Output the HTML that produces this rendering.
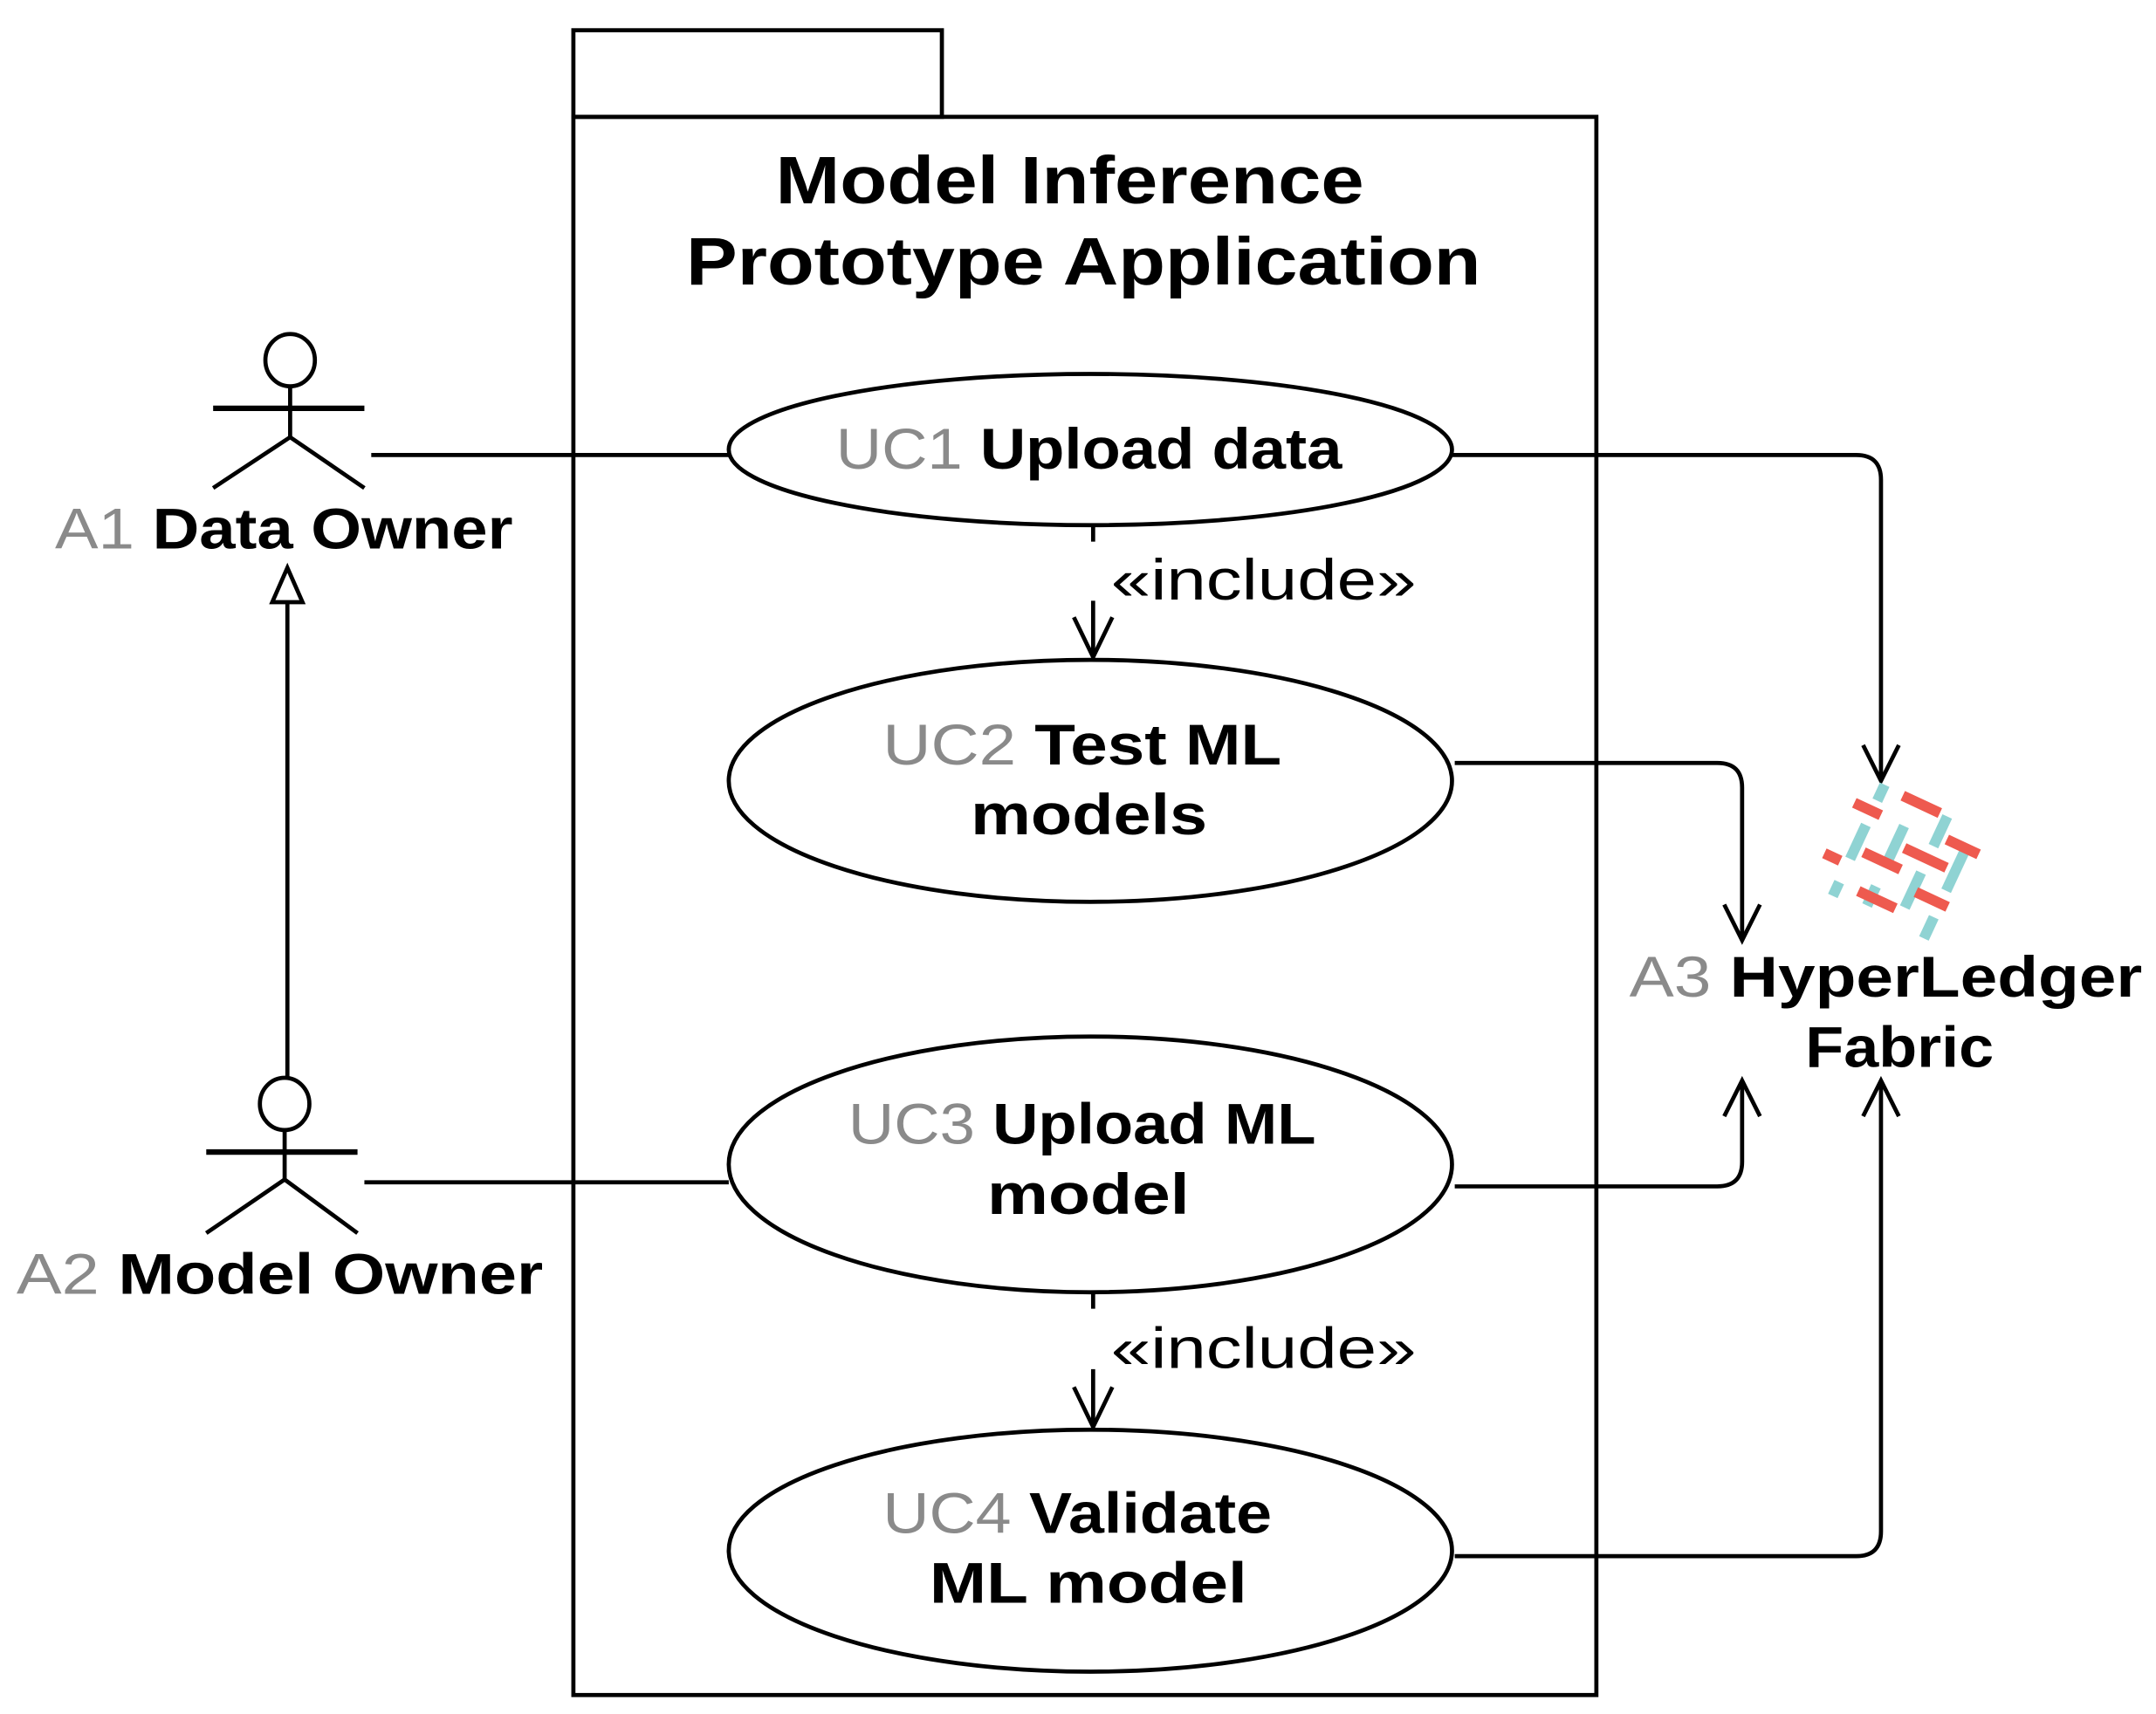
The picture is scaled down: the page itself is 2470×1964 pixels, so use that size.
<!DOCTYPE html>
<html><head><meta charset="utf-8"><style>
html,body{margin:0;padding:0;background:#fff;}
svg{display:block;}
text{font-family:"Liberation Sans",Arial,sans-serif;}
.b{font-weight:bold;}
</style></head><body>
<svg width="2470" height="1964" viewBox="0 0 1568 1246.8" xmlns="http://www.w3.org/2000/svg">
<g fill="none" stroke="#000" stroke-width="3">
  <rect x="417" y="22" width="268" height="63"/>
  <rect x="417" y="85" width="744" height="1148"/>
  <ellipse cx="793" cy="327" rx="263" ry="55" fill="#fff"/>
  <ellipse cx="793" cy="568" rx="263" ry="88" fill="#fff"/>
  <ellipse cx="793" cy="847" rx="263" ry="93" fill="#fff"/>
  <ellipse cx="793" cy="1128" rx="263" ry="88" fill="#fff"/>
  <ellipse cx="211" cy="262" rx="18" ry="19"/>
  <line x1="211" y1="281" x2="211" y2="318"/>
  <line x1="155" y1="297" x2="265" y2="297" stroke-width="4"/>
  <polyline points="155,355 211,318 265,355"/>
  <ellipse cx="207" cy="803" rx="18" ry="19"/>
  <line x1="207" y1="822" x2="207" y2="858"/>
  <line x1="150" y1="838" x2="260" y2="838" stroke-width="4"/>
  <polyline points="150,897 207,858 260,897"/>
  <line x1="209" y1="784" x2="209" y2="438"/>
  <polygon points="209,413 198,438 220,438" fill="#fff"/>
  <line x1="270" y1="331" x2="530" y2="331"/>
  <line x1="265" y1="860" x2="530" y2="860"/>
  <line x1="795" y1="382" x2="795" y2="394"/>
  <line x1="795" y1="437" x2="795" y2="478"/>
  <polyline points="781,449 795,478 809,449"/>
  <line x1="795" y1="940" x2="795" y2="952"/>
  <line x1="795" y1="996" x2="795" y2="1038"/>
  <polyline points="781,1009 795,1038 809,1009"/>
  <path d="M1056,331 H1350 Q1368,331 1368,349 V568"/>
  <polyline points="1355,542 1368,568 1381,542"/>
  <path d="M1058,555 H1249 Q1267,555 1267,573 V684"/>
  <polyline points="1254,658 1267,684 1280,658"/>
  <path d="M1058,863 H1249 Q1267,863 1267,845 V786"/>
  <polyline points="1254,812 1267,786 1280,812"/>
  <path d="M1058,1132 H1350 Q1368,1132 1368,1114 V786"/>
  <polyline points="1355,812 1368,786 1381,812"/>
</g>
<g transform="translate(1382,623) rotate(25) scale(0.85)" stroke-width="9" stroke-linecap="butt">
  <g stroke="#8fd3d3">
    <line x1="-38" y1="-50" x2="-38" y2="-35"/>
    <line x1="-38" y1="-12" x2="-38" y2="20"/>
    <line x1="-38" y1="42" x2="-38" y2="55"/>
    <line x1="-8" y1="-25" x2="-8" y2="8"/>
    <line x1="-8" y1="32" x2="-8" y2="50"/>
    <line x1="22" y1="-48" x2="22" y2="-20"/>
    <line x1="22" y1="5" x2="22" y2="38"/>
    <line x1="48" y1="-30" x2="48" y2="10"/>
    <line x1="48" y1="35" x2="48" y2="55"/>
  </g>
  <g stroke="#ee5a4f">
    <line x1="-20" y1="-48" x2="15" y2="-48"/>
    <line x1="-55" y1="-25" x2="-30" y2="-25"/>
    <line x1="30" y1="-30" x2="60" y2="-30"/>
    <line x1="0" y1="-8" x2="40" y2="-8"/>
    <line x1="-30" y1="10" x2="5" y2="10"/>
    <line x1="-60" y1="25" x2="-45" y2="25"/>
    <line x1="25" y1="22" x2="55" y2="22"/>
    <line x1="-20" y1="42" x2="15" y2="42"/>
  </g>
</g>
<g class="b" font-size="49" text-anchor="middle" fill="#000">
  <text x="778" y="148" textLength="428" lengthAdjust="spacingAndGlyphs">Model Inference</text>
  <text x="788" y="207" textLength="578" lengthAdjust="spacingAndGlyphs">Prototype Application</text>
</g>
<g class="b" font-size="42" fill="#000">
  <text x="40" y="399" textLength="333" lengthAdjust="spacingAndGlyphs"><tspan fill="#8a8a8a" font-weight="normal">A1</tspan> Data Owner</text>
  <text x="12" y="941" textLength="383" lengthAdjust="spacingAndGlyphs"><tspan fill="#8a8a8a" font-weight="normal">A2</tspan> Model Owner</text>
  <text x="608" y="341" textLength="368" lengthAdjust="spacingAndGlyphs"><tspan fill="#8a8a8a" font-weight="normal">UC1</tspan> Upload data</text>
  <text x="642" y="556" textLength="290" lengthAdjust="spacingAndGlyphs"><tspan fill="#8a8a8a" font-weight="normal">UC2</tspan> Test ML</text>
  <text x="706" y="607" textLength="172" lengthAdjust="spacingAndGlyphs">models</text>
  <text x="617" y="832" textLength="340" lengthAdjust="spacingAndGlyphs"><tspan fill="#8a8a8a" font-weight="normal">UC3</tspan> Upload ML</text>
  <text x="718" y="883" textLength="147" lengthAdjust="spacingAndGlyphs">model</text>
  <text x="642" y="1115" textLength="283" lengthAdjust="spacingAndGlyphs"><tspan fill="#8a8a8a" font-weight="normal">UC4</tspan> Validate</text>
  <text x="676" y="1166" textLength="231" lengthAdjust="spacingAndGlyphs">ML model</text>
  <text x="1185" y="725" textLength="373" lengthAdjust="spacingAndGlyphs"><tspan fill="#8a8a8a" font-weight="normal">A3</tspan> HyperLedger</text>
  <text x="1313" y="776" textLength="137" lengthAdjust="spacingAndGlyphs">Fabric</text>
</g>
<g font-size="42" fill="#000">
  <text x="808" y="436" textLength="222" lengthAdjust="spacingAndGlyphs">«include»</text>
  <text x="808" y="995" textLength="222" lengthAdjust="spacingAndGlyphs">«include»</text>
</g>
</svg>
</body></html>
